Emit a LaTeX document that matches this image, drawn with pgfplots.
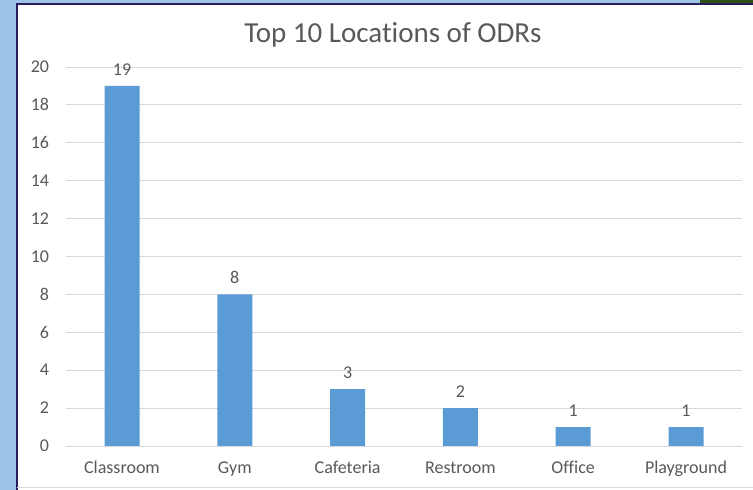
\documentclass[border=0pt]{standalone}
\usepackage{pgfplots}
\pgfplotsset{compat=1.18}
\usepackage{fontspec}
\setmainfont{Carlito}[Ligatures=NoCommon]
\definecolor{barblue}{HTML}{5B9BD5}
\definecolor{txtgray}{HTML}{595959}
\definecolor{gridgray}{HTML}{D9D9D9}
\definecolor{stripblue}{HTML}{9DC3E6}
\definecolor{navy}{HTML}{2B1B5C}
\definecolor{dkgreen}{HTML}{2D5016}
\begin{document}
\begin{tikzpicture}[x=1pt,y=1pt]
\useasboundingbox (0,0) rectangle (753,490);
\fill[white] (0,0) rectangle (753,490);
\fill[stripblue] (0,0) rectangle (16,490);
\fill[stripblue] (0,486) rectangle (700,490);
\fill[dkgreen] (700,486) rectangle (753,490);
\draw[navy,line width=2pt] (17,0) -- (17,486) -- (753,486);
\draw[gridgray,line width=0.8pt] (17,3) -- (753,3);
\begin{axis}[
  at={(65.6pt,44pt)}, anchor=south west,
  scale only axis, width=676.8pt, height=379pt,
  xmin=-0.5, xmax=5.5, ymin=0, ymax=20,
  xtick=data,
  xticklabels={Classroom,Gym,Cafeteria,Restroom,Office,Playground},
  ytick={0,2,...,20},
  major tick length=0pt,
  axis line style={draw=none},
  ymajorgrids, grid style={gridgray,line width=0.8pt},
  tick label style={font=\fontsize{18}{21}\selectfont, text=txtgray},
  /pgf/number format/assume math mode=true,
  yticklabel style={xshift=-13pt},
  xticklabel style={yshift=-10pt, text height=13.5pt, text depth=4pt},
  title={Top 10 Locations of ODRs},
  title style={font=\fontsize{29}{33}\selectfont, text=txtgray, at={(0.5,1)}, xshift=-11pt, yshift=10pt},
  clip=false,
]
\addplot[ybar, bar width=35pt, fill=barblue, draw=none,
  nodes near coords,
  every node near coord/.style={font=\fontsize{18}{21}\selectfont, text=txtgray, yshift=7pt}]
  coordinates {(0,19) (1,8) (2,3) (3,2) (4,1) (5,1)};
\end{axis}
\end{tikzpicture}
\end{document}
